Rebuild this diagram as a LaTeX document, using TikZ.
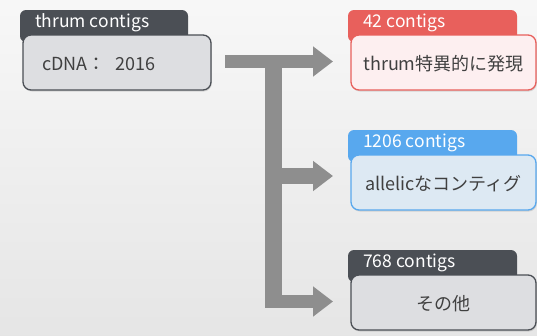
\documentclass[tikz,border=0pt]{standalone}
\usepackage{fontspec}
\setmainfont{Noto Sans CJK JP}
\usetikzlibrary{arrows.meta,shadows}
\definecolor{darktab}{HTML}{4B4F55}
\definecolor{greyfill}{HTML}{DDDEE1}
\definecolor{redtab}{HTML}{E8605C}
\definecolor{redfill}{HTML}{FDEFF0}
\definecolor{bluetab}{HTML}{58A8EE}
\definecolor{bluefill}{HTML}{DDE9F3}
\definecolor{flow}{HTML}{8E8E8E}
\tikzset{
  tab/.style={fill=#1, rounded corners=6pt},
  card/.style={rounded corners=8pt, line width=1.3pt,
    drop shadow={shadow xshift=0.8pt, shadow yshift=-1.5pt, opacity=0.25}},
  tabtext/.style={anchor=west, text=white, font=\fontsize{17.5}{18}\selectfont, inner sep=0pt},
  cardtext/.style={font=\fontsize{18}{19}\selectfont, text=black!75, inner sep=0pt},
  bar/.style={draw=flow, line width=#1},
  flowtip/.style={-{Triangle[length=20pt,width=29pt]}}
}
\begin{document}
\begin{tikzpicture}[x=1pt,y=-1pt]
  % page and soft background
  \useasboundingbox (0,0) rectangle (537,335);
  \shade[top color=white!97!black, bottom color=white!90!black] (0,0) rectangle (537,335);

  % source card
  \fill[tab=darktab] (20,10) rectangle (188,42);
  \node[tabtext] (srctab) at (35,22.5) {thrum contigs};
  \draw[card, draw=darktab, fill=greyfill] (23,35) rectangle (211,90);
  \node[cardtext, anchor=west] (src) at (42,64) {cDNA：\hspace{10pt}2016};

  % target card: thrum-specific
  \fill[tab=redtab] (348,10) rectangle (517,42);
  \node[tabtext] (atab) at (363,22.5) {42 contigs};
  \draw[card, draw=redtab, fill=redfill] (351,35) rectangle (536,90);
  \node[cardtext] (a) at (443.5,64) {thrum特異的に発現};

  % target card: allelic
  \fill[tab=bluetab] (348,130) rectangle (517,162);
  \node[tabtext] (btab) at (363,142.5) {1206 contigs};
  \draw[card, draw=bluetab, fill=bluefill] (351,155) rectangle (536,210);
  \node[cardtext] (b) at (443.5,184) {allelicなコンティグ};

  % target card: others
  \fill[tab=darktab] (348,250) rectangle (517,282);
  \node[tabtext] (ctab) at (363,262.5) {768 contigs};
  \draw[card, draw=darktab, fill=greyfill] (351,275) rectangle (536,330);
  \node[cardtext] (c) at (443.5,304) {その他};

  % branching flow arrows
  \coordinate (start) at (225,61.5);
  \coordinate (trunktop) at (273.5,55);
  \coordinate (trunkbot) at (273.5,308);
  \coordinate (midroot) at (282,176);
  \coordinate (botroot) at (282,301.5);
  \coordinate (atip) at (333,61.5);
  \coordinate (btip) at (333,176);
  \coordinate (ctip) at (333,301.5);
  \draw[bar=17pt] (trunktop) -- (trunkbot);
  \draw[bar=13pt, flowtip] (start) -- (atip);
  \draw[bar=16pt, flowtip] (midroot) -- (btip);
  \draw[bar=13pt, flowtip] (botroot) -- (ctip);
\end{tikzpicture}
\end{document}
